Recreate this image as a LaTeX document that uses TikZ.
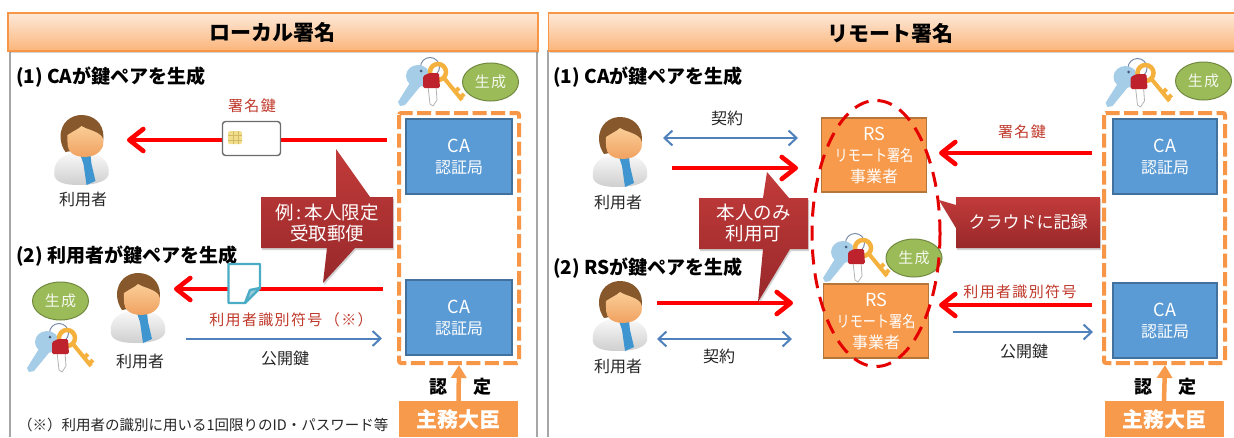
\documentclass[tikz,border=0pt]{standalone}
\usepackage{fontspec}
\usepackage{graphicx}
\setmainfont{Noto Sans CJK JP}
\newfontfamily\wide[LetterSpace=9]{Noto Sans CJK JP}
\usetikzlibrary{arrows.meta,shapes.geometric,shadows}
\definecolor{hdbor}{HTML}{F79646}
\definecolor{hdtop}{HTML}{FDE9D9}
\definecolor{hdbot}{HTML}{FBB57A}
\definecolor{panel}{HTML}{A6A6A6}
\definecolor{boxblue}{HTML}{5B9BD5}
\definecolor{boxblueb}{HTML}{41719C}
\definecolor{boxor}{HTML}{F79A4B}
\definecolor{boxorb}{HTML}{B5763A}
\definecolor{arrblue}{HTML}{4F81BD}
\definecolor{labred}{HTML}{C0392B}
\definecolor{calltop}{HTML}{C23B3A}
\definecolor{callbot}{HTML}{98282A}
\definecolor{gengreen}{HTML}{9BBB59}
\definecolor{gengreenb}{HTML}{71893F}
\definecolor{txt}{HTML}{262626}
\newcommand{\fs}[1]{\fontsize{#1}{21}\selectfont}
\newcommand{\rsname}{\scalebox{.82}[1]{リモート署名}}
\tikzset{
 header/.style={draw=hdbor,line width=1.2pt,top color=hdtop,bottom color=hdbot,
   drop shadow={shadow xshift=1pt,shadow yshift=-2pt,opacity=.35}},
 headtitle/.style={font=\fs{21}\bfseries,text=black},
 panelline/.style={draw=panel,line width=2pt},
 heading/.style={font=\fs{19}\bfseries,text=black,anchor=west,inner sep=0pt},
 plain/.style={font=\fs{16},text=txt,inner sep=0pt},
 redlab/.style={font=\fs{15}\wide,text=labred,inner sep=0pt},
 redarrow/.style={draw=red,line width=4.6pt,-{Straight Barb[length=14pt,width=22pt,line width=4.6pt,round]}},
 bluearrow/.style={draw=arrblue,line width=2pt,-{Straight Barb[length=8pt,width=15pt,line width=2pt]}},
 bluedouble/.style={draw=arrblue,line width=2pt,{Straight Barb[length=8pt,width=15pt,line width=2pt]}-{Straight Barb[length=8pt,width=15pt,line width=2pt]}},
 cabox/.style={draw=boxblueb,line width=1.3pt,fill=boxblue,text=white,font=\fs{16},align=center,inner sep=0pt,minimum width=106pt,minimum height=75pt},
 rsbox/.style={draw=boxorb,line width=1.3pt,fill=boxor,text=white,font=\fs{16},align=center,inner sep=0pt,minimum width=105pt,minimum height=74pt},
 dashbox/.style={draw=hdbor,line width=4pt,dash pattern=on 14pt off 4.5pt,rounded corners=2pt},
 gen/.style={ellipse,draw=gengreenb,line width=1pt,fill=gengreen,text=white!90!gengreen,font=\fs{15}\wide,inner sep=0pt,minimum width=56pt,minimum height=38pt},
 callout/.style={top color=calltop,bottom color=callbot,draw=none,
   drop shadow={shadow xshift=1pt,shadow yshift=-2pt,opacity=.35}},
 calltext/.style={text=white,font=\fs{18.5},align=center,inner sep=0pt},
 minister/.style={fill=boxor,text=white,font=\fs{21}\bfseries,inner sep=0pt,minimum width=119pt,minimum height=36pt},
 certarrow/.style={draw=boxor,line width=4.5pt,-{Triangle[length=13pt,width=15pt]}},
 certtext/.style={font=\fs{18}\bfseries,text=black,inner sep=0pt},
 person/.pic={
   \path[top color=white!95!gray,bottom color=gray!38!white] (-27,26) .. controls (-29,12) and (-20,5) .. (-8,3)
     -- (8,3) .. controls (20,5) and (29,12) .. (27,25) .. controls (24,33) and (10,35) .. (-3,35)
     .. controls (-15,35) and (-25,33) .. (-27,26) -- cycle;
   \fill[color={rgb,255:red,62;green,149;blue,208}] (-1,5) -- (9,5) -- (10,14) -- (14,31) -- (5,35) -- (2,14) -- cycle;
   \fill[color={rgb,255:red,135;green,88;blue,44}] (-21,-13) .. controls (-21,-28) and (-10,-35) .. (0,-35)
     .. controls (12,-35) and (22,-27) .. (22,-13) .. controls (22,-8) and (20,-6) .. (19,-4) -- (-16,2)
     .. controls (-19,-2) and (-21,-8) .. (-21,-13) -- cycle;
   \path[top color={rgb,255:red,250;green,205;blue,150},bottom color={rgb,255:red,240;green,160;blue,95}]
     (-14,-15) .. controls (-8,-19) and (-3,-21) .. (0,-24) .. controls (6,-20) and (14,-20) .. (20,-14)
     .. controls (24,-8) and (22,-1) .. (15,4) .. controls (8,8) and (-4,8) .. (-10,3)
     .. controls (-15,-1) and (-14,-8) .. (-14,-15) -- cycle;
 },
 keypair/.pic={
   \draw[color={rgb,255:red,120;green,140;blue,170},line width=1pt] (-1,-15) circle[radius=9.5];
   \fill[color={rgb,255:red,165;green,205;blue,232}] (-18,-4) -- (-33,20) -- (-31,24) -- (-26,23) -- (-8,1) -- cycle;
   \fill[color={rgb,255:red,165;green,205;blue,232}] (-13,-6) ellipse[x radius=12,y radius=11];
   \fill[color={rgb,255:red,70;green,90;blue,120}] (-10,-11) circle[radius=1.5];
   \draw[fill=white,draw=gray!60,line width=.8pt] (-3,4) -- (5,4) -- (6,18) -- (2,24) -- (-1,22) -- cycle;
   \draw[color={rgb,255:red,245;green,177;blue,61},line width=4.5pt] (7,-10) circle[radius=8];
   \draw[color={rgb,255:red,245;green,177;blue,61},line width=4pt] (13,-4) -- (31,18) (24,10) -- (28,6) (29,16) -- (33,12);
   \fill[color={rgb,255:red,190;green,35;blue,45},rounded corners=1.5pt] (-8,-6) -- (-2,-9) -- (8,-9) -- (9,6) -- (-8,6) -- cycle;
 }
}
\begin{document}
\begin{tikzpicture}[x=1pt,y=-1pt]
\useasboundingbox (0,0) rectangle (1234,437);
\fill[white] (0,0) rectangle (1234,437);

%% panels
\draw[panelline] (10,50) -- (10,437);
\draw[panelline] (537,50) -- (537,437);
\draw[panelline] (548,50) -- (548,437);
\path[header] (8,13) rectangle (538,51);
\path[header] (548.5,13) rectangle (1240,51);
\node[headtitle] (t1) at (272,32) {ローカル署名};
\node[headtitle] (t2) at (890,33) {リモート署名};

%% LEFT PANEL
\node[heading] (h1) at (16,77) {(1) CAが鍵ペアを生成};
\node[heading] (h2) at (16,256) {(2) 利用者が鍵ペアを生成};

\node[cabox] (ca1) at (459,156.5) {{\fs{18}CA}\\認証局};
\node[cabox] (ca2) at (459,317.5) {{\fs{18}CA}\\認証局};
\path[dashbox] (399,113) rectangle (519,363);
\coordinate (dl) at (459,365);

\pic at (431,82) {keypair};
\node[gen] (g1) at (490.5,82) {生成};
\pic at (60,348) {keypair};
\node[gen] (g2) at (60.5,301) {生成};

\pic at (81.5,150) {person};
\pic at (138,308) {person};
\node[plain] (u1) at (83,199) {利用者};
\node[plain] (u2) at (140,361) {利用者};

\coordinate (r1s) at (387,140);
\coordinate (r1e) at (127,140);
\draw[redarrow] (r1s) -- (r1e);
\node[draw=gray!85!black,line width=1.4pt,fill=white,rounded corners=3pt,minimum width=58pt,minimum height=34pt,inner sep=0pt] (card) at (251.5,138.5) {};
\fill[color={rgb,255:red,240;green,222;blue,140},rounded corners=1.5pt] (228,131) rectangle (242,144);
\draw[color={rgb,255:red,210;green,185;blue,100},line width=.5pt] (228,135.5) -- (242,135.5) (228,140) -- (242,140) (233,131) -- (233,144) (238,131) -- (238,144);
\node[redlab] (l1) at (252,106) {署名鍵};

\coordinate (r2s) at (383,289);
\coordinate (r2e) at (174,289);
\draw[redarrow] (r2s) -- (r2e);
\draw[draw={rgb,255:red,75;green,172;blue,198},line width=2.4pt,fill=white,line join=round]
  (228.5,264) -- (260,264) -- (260,288) -- (245,303) -- (228.5,303) -- cycle;
\draw[draw={rgb,255:red,75;green,172;blue,198},line width=2.4pt,fill={rgb,255:red,160;green,205;blue,220},line join=round]
  (260,288) -- (250,290) -- (245,303) -- cycle;
\node[redlab] (l2) at (291,320) {利用者識別符号\,（※）};
\coordinate (b1s) at (186,338.5);
\coordinate (b1e) at (382,338.5);
\draw[bluearrow] (b1s) -- (b1e);
\node[plain] (l3) at (285,358) {公開鍵};

\path[callout] (261,197) -- (336,197) -- (336,149) -- (370,197) -- (393,197) -- (393,248) -- (355,248) -- (323,283) -- (327,248) -- (261,248) -- cycle;
\node[calltext] (c1) at (327,222.5) {例\,:\,本人限定\\受取郵便};

\node[minister] (m1) at (458.5,419) {主務大臣};
\draw[certarrow] (m1.north) -- (dl);
\node[certtext] (n1) at (438,387) {認};
\node[certtext] (n2) at (482,387) {定};
\node[plain,font=\fs{14.5},anchor=west] (fn) at (18,425) {（※）利用者の識別に用いる1回限りのID・パスワード等};

%% RIGHT PANEL
\node[heading] (h3) at (553,77) {(1) CAが鍵ペアを生成};
\node[heading] (h4) at (553,268) {(2) RSが鍵ペアを生成};

\node[cabox,minimum width=104pt] (ca3) at (1165,156.5) {{\fs{18}CA}\\認証局};
\node[cabox,minimum width=104pt] (ca4) at (1165,320.5) {{\fs{18}CA}\\認証局};
\path[dashbox] (1104,113) rectangle (1225,363);
\coordinate (dr) at (1165,365);

\pic at (1138.5,83) {keypair};
\node[gen] (g3) at (1203.5,81) {生成};

\pic at (620,152) {person};
\pic at (620,316) {person};
\node[plain] (u3) at (618,202) {利用者};
\node[plain] (u4) at (618,366) {利用者};

\node[rsbox] (rs1) at (874,155) {{\fs{18}RS}\\\rsname\\事業者};
\node[rsbox] (rs2) at (876,321) {{\fs{18}RS}\\\rsname\\事業者};

\pic at (856,258) {keypair};
\node[gen] (g4) at (914,258) {生成};

\draw[draw=red!90!black,line width=3pt,dash pattern=on 15pt off 9pt] (876,233.5) ellipse[x radius=64,y radius=133];

\coordinate (b2s) at (663,138);
\coordinate (b2e) at (798,138);
\draw[bluedouble] (b2s) -- (b2e);
\node[plain] (k1) at (727,118) {契約};
\coordinate (r3s) at (672,168);
\coordinate (r3e) at (798,168);
\draw[redarrow] (r3s) -- (r3e);
\coordinate (r4s) at (657,303);
\coordinate (r4e) at (793,303);
\draw[redarrow] (r4s) -- (r4e);
\coordinate (b3s) at (657,339);
\coordinate (b3e) at (792,339);
\draw[bluedouble] (b3s) -- (b3e);
\node[plain] (k2) at (719,356) {契約};

\path[callout] (699,198) -- (763,198) -- (767,172) -- (789,198) -- (808,198) -- (808,249) -- (790,249) -- (758,302) -- (763,249) -- (699,249) -- cycle;
\node[calltext] (c2) at (753.5,223.5) {本人のみ\\利用可};

\path[callout] (956,197) -- (1100,197) -- (1100,248) -- (956,248) -- (956,228) -- (939,200) -- (956,205) -- cycle;
\node[calltext,font=\fs{17}] (c3) at (1028,222.5) {クラウドに記録};

\coordinate (r5s) at (1092,153);
\coordinate (r5e) at (939,153);
\draw[redarrow] (r5s) -- (r5e);
\node[redlab] (l4) at (1022,132) {署名鍵};
\coordinate (r6s) at (1092,305);
\coordinate (r6e) at (939,305);
\draw[redarrow] (r6s) -- (r6e);
\node[redlab] (l5) at (1020,292) {利用者識別符号};
\coordinate (b4s) at (953,332);
\coordinate (b4e) at (1093,332);
\draw[bluearrow] (b4s) -- (b4e);
\node[plain] (l6) at (1024,351) {公開鍵};

\node[minister] (m2) at (1164,419) {主務大臣};
\draw[certarrow] (m2.north) -- (dr);
\node[certtext] (n3) at (1143,387) {認};
\node[certtext] (n4) at (1187,387) {定};
\end{tikzpicture}
\end{document}
